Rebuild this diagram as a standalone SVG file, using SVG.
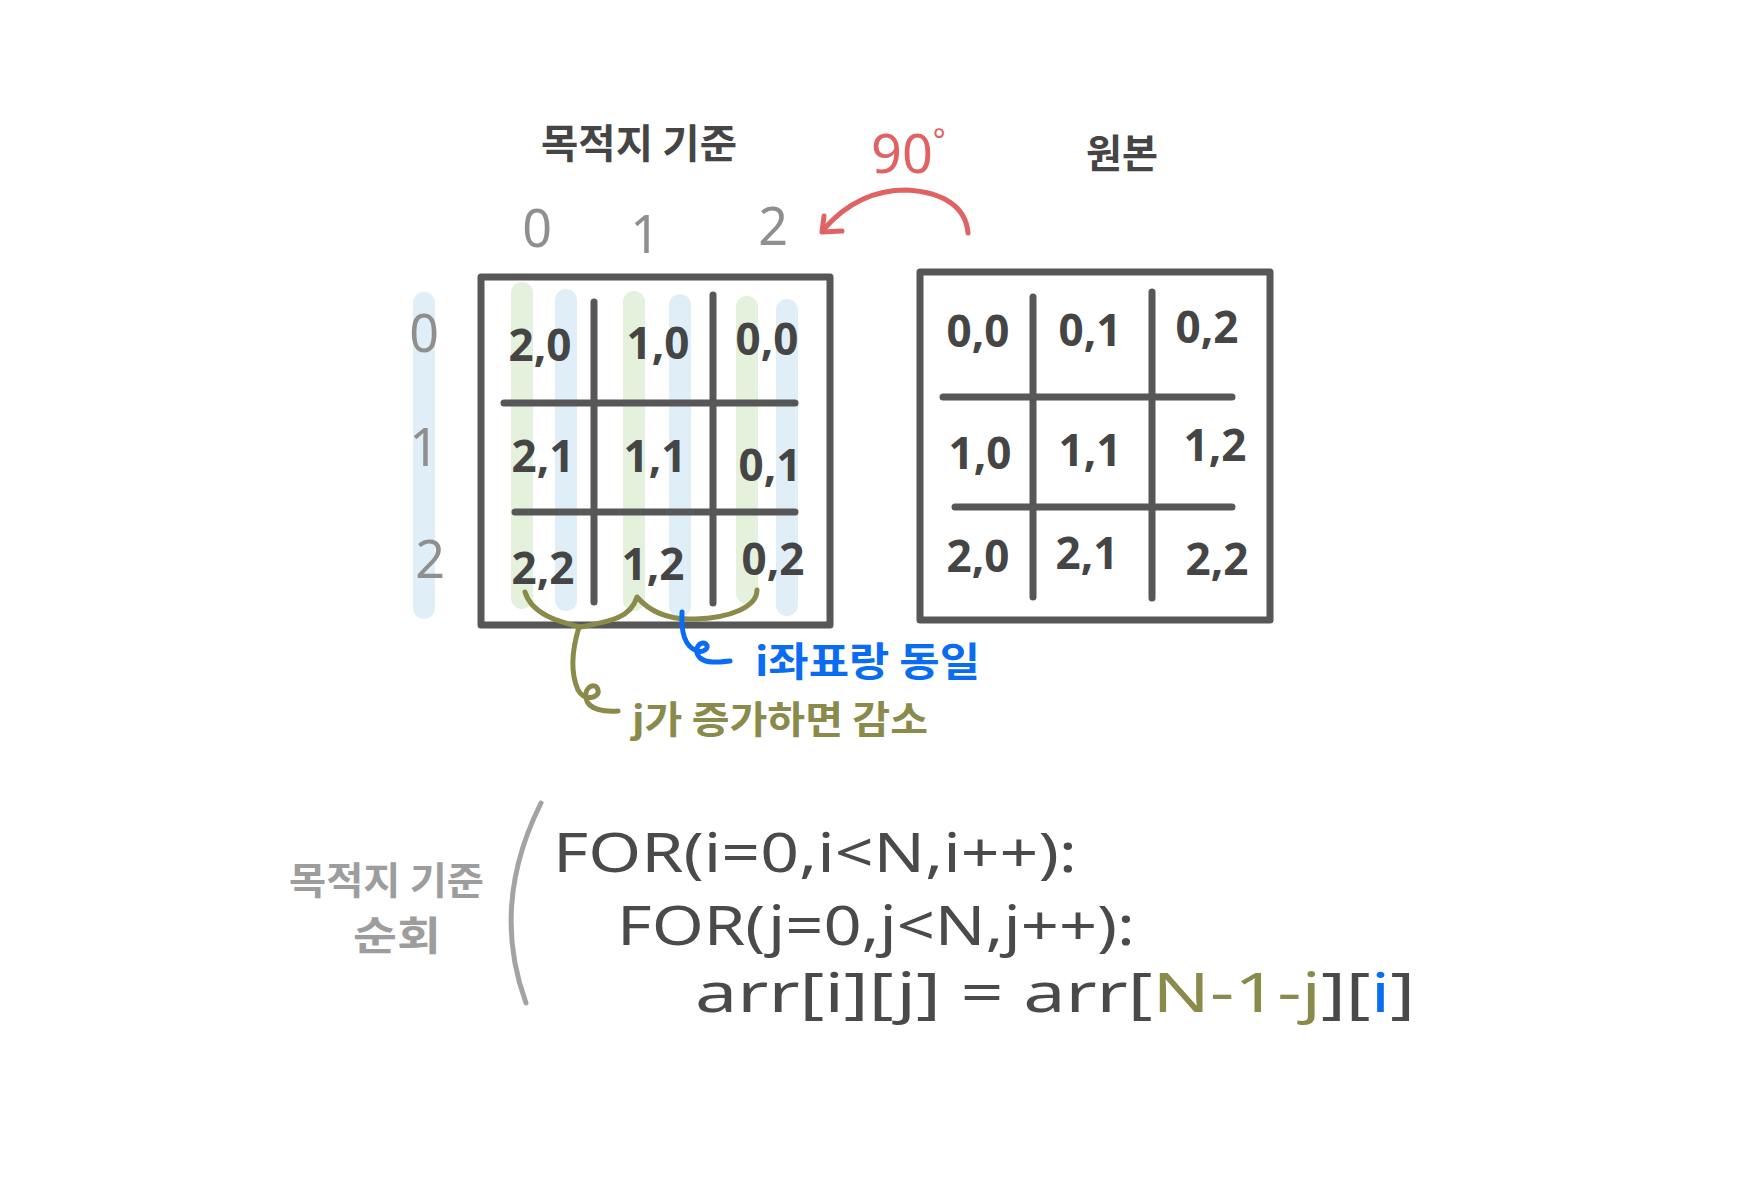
<svg xmlns="http://www.w3.org/2000/svg" width="1744" height="1184" viewBox="0 0 1744 1184">
<style>
.box{fill:none;stroke:#575757;stroke-width:7;stroke-linejoin:round}
.grid{stroke:#575757;stroke-width:7;stroke-linecap:round;fill:none}
.cell{font-family:"Noto Sans","Noto Sans CJK KR",sans-serif;font-size:44px;font-weight:bold;fill:#454545;text-anchor:middle}
.idx{font-family:"Noto Sans","Noto Sans CJK KR",sans-serif;font-size:52px;fill:#8f8f8f;text-anchor:middle}
.title{font-family:"Noto Sans CJK KR","Noto Sans",sans-serif;font-size:40px;font-weight:bold;fill:#454545}
.code{font-family:"Noto Sans",sans-serif;font-size:54px;fill:#4a4a4a}
.gs{stroke:#e3f1dd;stroke-width:22;stroke-linecap:round;fill:none}
.bs{stroke:#e0eff7;stroke-width:22;stroke-linecap:round;fill:none}
.olive{stroke:#8a8a4b;stroke-width:5;fill:none;stroke-linecap:round;stroke-linejoin:round}
.blue{stroke:#0a6cf0;stroke-width:5;fill:none;stroke-linecap:round;stroke-linejoin:round}
</style>
<rect width="1744" height="1184" fill="#ffffff"/>

<g id="titles">
<text class="title" x="541" y="158" textLength="196" lengthAdjust="spacingAndGlyphs">목적지 기준</text>
<text class="title" x="1086" y="168" textLength="72" lengthAdjust="spacingAndGlyphs">원본</text>
<text x="871" y="173" font-family="Noto Sans, sans-serif" font-size="54" fill="#e06262">90<tspan font-size="30" dy="-22">°</tspan></text>
</g>

<g id="col-index">
<text class="idx" x="537" y="247">0</text>
<text class="idx" x="645" y="253">1</text>
<text class="idx" x="773" y="245">2</text>
</g>

<g id="row-index">
<line class="bs" x1="424" y1="303" x2="424" y2="608"/>
<text class="idx" x="424" y="352">0</text>
<text class="idx" x="424" y="466">1</text>
<text class="idx" x="430" y="578">2</text>
</g>

<g id="target-grid">
<line class="gs" x1="522" y1="293" x2="522" y2="598"/>
<line class="bs" x1="566" y1="300" x2="566" y2="600"/>
<line class="gs" x1="634" y1="302" x2="634" y2="600"/>
<line class="bs" x1="680" y1="305" x2="680" y2="606"/>
<line class="gs" x1="747" y1="307" x2="747" y2="593"/>
<line class="bs" x1="787" y1="310" x2="787" y2="605"/>
<rect class="box" x="481" y="277" width="349" height="348"/>
<line class="grid" x1="594" y1="302" x2="594" y2="602"/>
<line class="grid" x1="713" y1="295" x2="713" y2="603"/>
<line class="grid" x1="504" y1="403" x2="795" y2="403"/>
<line class="grid" x1="515" y1="512" x2="795" y2="512"/>
<text class="cell" x="540" y="361">2,0</text>
<text class="cell" x="658" y="359">1,0</text>
<text class="cell" x="767" y="355">0,0</text>
<text class="cell" x="543" y="472">2,1</text>
<text class="cell" x="655" y="472">1,1</text>
<text class="cell" x="770" y="481">0,1</text>
<text class="cell" x="543" y="584">2,2</text>
<text class="cell" x="653" y="580">1,2</text>
<text class="cell" x="773" y="575">0,2</text>
</g>

<g id="source-grid">
<rect class="box" x="920" y="272" width="350" height="348"/>
<line class="grid" x1="1033" y1="297" x2="1033" y2="597"/>
<line class="grid" x1="1152" y1="292" x2="1152" y2="598"/>
<line class="grid" x1="943" y1="397" x2="1232" y2="397"/>
<line class="grid" x1="955" y1="507" x2="1232" y2="507"/>
<text class="cell" x="978" y="347">0,0</text>
<text class="cell" x="1090" y="346">0,1</text>
<text class="cell" x="1207" y="343">0,2</text>
<text class="cell" x="980" y="469">1,0</text>
<text class="cell" x="1090" y="466">1,1</text>
<text class="cell" x="1215" y="461">1,2</text>
<text class="cell" x="978" y="572">2,0</text>
<text class="cell" x="1087" y="569">2,1</text>
<text class="cell" x="1217" y="575">2,2</text>
</g>

<g id="connectors">
<path d="M968,233 C966,208 945,192 906,190 C872,190 845,205 824,229" fill="none" stroke="#e06262" stroke-width="5" stroke-linecap="round"/>
<path d="M824,216 L822,232 L842,231" fill="none" stroke="#e06262" stroke-width="5" stroke-linecap="round" stroke-linejoin="round"/>
<path class="olive" d="M525,592 C532,615 560,622 580,627 C605,622 630,620 637,597 C650,612 670,620 695,619 C730,618 757,607 757,590"/>
<path class="olive" d="M579,627 C572,650 570,672 578,690 C585,702 600,698 598,690 C596,682 584,686 586,698 C588,710 605,712 618,711"/>
<path class="blue" d="M682,612 C681,630 684,645 695,650 C703,654 710,648 706,644 C700,640 692,650 700,658 C707,664 720,662 730,661"/>
<path d="M541,803 Q490,905 526,1003" fill="none" stroke="#a3a3a3" stroke-width="5" stroke-linecap="round"/>
</g>

<g id="notes">
<text x="755" y="676" font-family="Noto Sans CJK KR, Noto Sans, sans-serif" font-size="40" font-weight="bold" fill="#0a6cf0" textLength="225" lengthAdjust="spacingAndGlyphs">i좌표랑 동일</text>
<text x="632" y="733" font-family="Noto Sans CJK KR, Noto Sans, sans-serif" font-size="38" font-weight="bold" fill="#8a8a4b" textLength="296" lengthAdjust="spacingAndGlyphs">j가 증가하면 감소</text>
</g>

<g id="traversal-label">
<text x="289" y="894" font-family="Noto Sans CJK KR, Noto Sans, sans-serif" font-size="38" font-weight="bold" fill="#9d9d9d" textLength="195" lengthAdjust="spacingAndGlyphs">목적지 기준</text>
<text x="353" y="950" font-family="Noto Sans CJK KR, Noto Sans, sans-serif" font-size="40" font-weight="bold" fill="#9d9d9d" textLength="88" lengthAdjust="spacingAndGlyphs">순회</text>
</g>

<g id="code">
<text class="code" x="553" y="872" textLength="524" lengthAdjust="spacingAndGlyphs">FOR(i=0,i&lt;N,i++):</text>
<text class="code" x="617" y="945" textLength="518" lengthAdjust="spacingAndGlyphs">FOR(j=0,j&lt;N,j++):</text>
<text class="code" x="695" y="1012" textLength="720" lengthAdjust="spacingAndGlyphs">arr[i][j] = arr[<tspan fill="#8a8a4b">N-1-j</tspan>][<tspan fill="#0a6cf0">i</tspan>]</text>
</g>
</svg>
